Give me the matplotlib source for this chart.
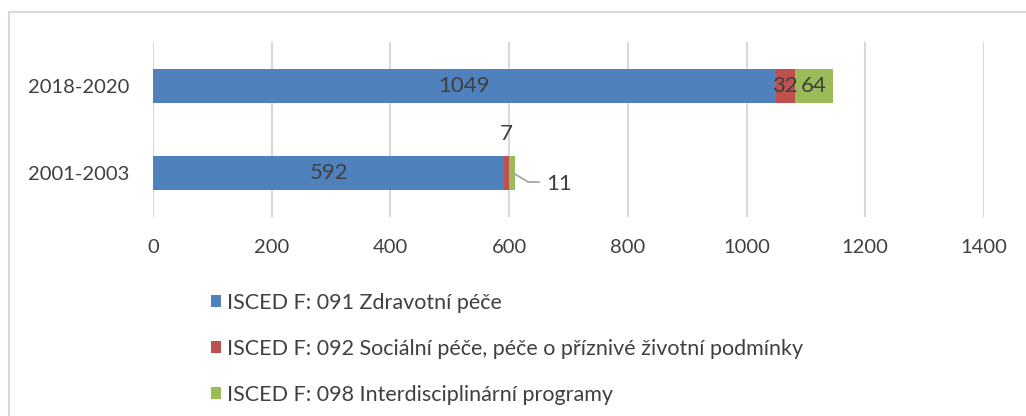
import matplotlib.pyplot as plt
from matplotlib.patches import Rectangle
import numpy as np

plt.rcParams['font.family'] = ['Lato', 'DejaVu Sans']

periods = ['2001-2003', '2018-2020']
zdravotni = [592, 1049]
socialni = [7, 32]
interdisc = [11, 64]
series_labels = [
    'ISCED F: 091 Zdravotní péče',
    'ISCED F: 092 Sociální péče, péče o příznivé životní podmínky',
    'ISCED F: 098 Interdisciplinární programy',
]
colors = ['#4F81BD', '#C0504D', '#9BBB59']
text_col = '#404040'

W, H = 1026, 416
fig = plt.figure(figsize=(W / 100, H / 100), dpi=100)
ax = fig.add_axes([153 / W, 1 - 217 / H, (984 - 153) / W, (217 - 42) / H])

y = np.arange(len(periods))
h = 0.39
left2 = np.array(zdravotni)
left3 = left2 + np.array(socialni)
b1 = ax.barh(y, zdravotni, h, color=colors[0], label=series_labels[0], zorder=2)
b2 = ax.barh(y, socialni, h, left=left2, color=colors[1], label=series_labels[1], zorder=2)
b3 = ax.barh(y, interdisc, h, left=left3, color=colors[2], label=series_labels[2], zorder=2)

ax.set_xlim(0, 1400)
ax.set_ylim(-0.5, 1.5)
ax.set_xticks(np.arange(0, 1401, 200))
ax.set_yticks(y)
ax.set_yticklabels(periods)
ax.tick_params(axis='both', length=0, labelsize=14.5, labelcolor=text_col)
ax.tick_params(axis='x', pad=16)
ax.tick_params(axis='y', pad=17)
ax.grid(axis='x', color='#D9D9D9', linewidth=1.5, zorder=0)
for s in ax.spines.values():
    s.set_visible(False)

fs = 16
# labels inside the segments of the upper bar
ax.text(zdravotni[1] / 2, 1, str(zdravotni[1]), ha='center', va='center',
        fontsize=fs, color=text_col, zorder=3)
ax.text(left2[1] + socialni[1] / 2, 1, str(socialni[1]), ha='center', va='center',
        fontsize=fs, color=text_col, zorder=3)
ax.text(left3[1] + interdisc[1] / 2, 1, str(interdisc[1]), ha='center', va='center',
        fontsize=fs, color=text_col, zorder=3)

# lower bar: 592 inside, 7 above, 11 with a leader line
ax.text(zdravotni[0] / 2, 0, str(zdravotni[0]), ha='center', va='center',
        fontsize=fs, color=text_col, zorder=3)
ax.text(left2[0] + socialni[0] / 2, 0.45, str(socialni[0]), ha='center', va='center',
        fontsize=fs, color=text_col, zorder=3)
end0 = left3[0] + interdisc[0]
ax.plot([end0, end0 + 22, end0 + 40], [-0.01, -0.10, -0.10],
        color='#A6A6A6', linewidth=1.3, zorder=3, clip_on=False)
ax.text(end0 + 52, -0.12, str(interdisc[0]), ha='left', va='center',
        fontsize=fs, color=text_col, zorder=3)

leg = fig.legend(handles=[b1, b2, b3], loc='upper left',
                 bbox_to_anchor=(211 / W, 1 - 293 / H), frameon=False,
                 fontsize=15.5, labelcolor=text_col, handlelength=0.48,
                 handleheight=0.48, handletextpad=0.25, labelspacing=1.2,
                 borderpad=0, borderaxespad=0)

# outer chart frame
fig.patches.append(Rectangle((8.5 / W, -0.1), 1.2, 1 - 12.5 / H + 0.1,
                             transform=fig.transFigure, fill=False,
                             edgecolor='#D9D9D9', linewidth=1.5))

fig.savefig('out.png', dpi=100)
